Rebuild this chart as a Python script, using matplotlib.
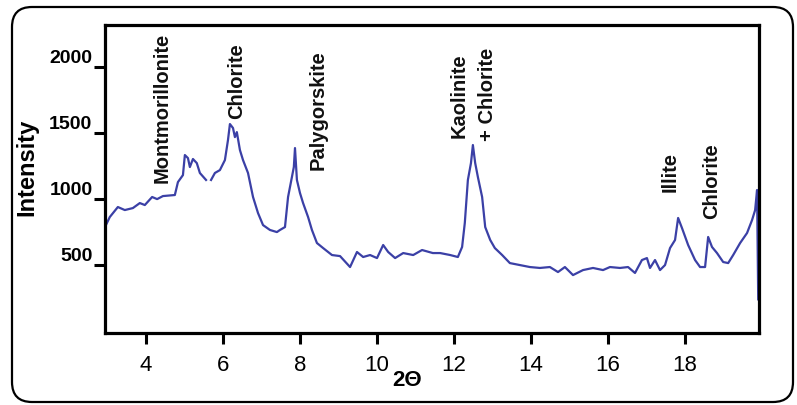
import numpy as np
import matplotlib
matplotlib.use('Agg')
import matplotlib.pyplot as plt
from matplotlib.patches import FancyBboxPatch
from matplotlib.transforms import IdentityTransform

# 2-theta (deg) and intensity
two_theta = [2.96, 3.06, 3.27, 3.45, 3.66, 3.84, 3.97, 4.16, 4.29, 4.44, 4.75, 4.83,
             4.96, 5.01, 5.09, 5.14, 5.22, 5.32, 5.40, 5.56, 5.62, 5.69, 5.79, 5.92,
             6.05, 6.13, 6.18, 6.26, 6.31, 6.36, 6.44, 6.52, 6.65, 6.78, 6.91, 7.04,
             7.22, 7.40, 7.48, 7.61, 7.69, 7.79, 7.84, 7.87, 7.92, 8.00, 8.08, 8.21,
             8.31, 8.44, 8.60, 8.83, 9.04, 9.30, 9.48, 9.64, 9.82, 10.00, 10.16, 10.29,
             10.47, 10.68, 10.94, 11.17, 11.45, 11.64, 11.90, 12.10, 12.21, 12.28, 12.36,
             12.44, 12.49, 12.55, 12.62, 12.73, 12.81, 12.94, 13.06, 13.25, 13.45, 13.71,
             13.97, 14.23, 14.49, 14.70, 14.88, 15.09, 15.35, 15.61, 15.87, 16.05, 16.31,
             16.52, 16.70, 16.88, 17.01, 17.09, 17.22, 17.35, 17.48, 17.61, 17.74, 17.82,
             17.92, 18.08, 18.26, 18.39, 18.52, 18.60, 18.70, 18.83, 18.99, 19.12, 19.25,
             19.43, 19.61, 19.74, 19.82, 19.87, 19.90]
intensity = [803, 864, 940, 917, 932, 970, 955, 1016, 1000, 1023, 1031, 1129,
             1182, 1334, 1311, 1243, 1304, 1273, 1198, 1145, np.nan, 1145, 1198, 1220,
             1296, 1448, 1569, 1539, 1470, 1508, 1372, 1296, 1198, 1016, 894, 803,
             766, 750, 766, 788, 1016, 1167, 1243, 1387, 1145, 1046, 970, 864,
             766, 667, 629, 576, 568, 485, 599, 561, 576, 553, 652, 599,
             553, 591, 576, 614, 591, 591, 576, 561, 637, 819, 1145,
             1273, 1410, 1273, 1167, 1016, 788, 690, 629, 576, 515, 500,
             485, 478, 485, 447, 485, 424, 462, 478, 462, 485, 478,
             485, 440, 538, 553, 478, 538, 462, 500, 629, 690, 857,
             781, 652, 538, 485, 485, 713, 637, 591, 523, 515, 576,
             667, 743, 841, 917, 1069, 240]

y_ticks = [500, 1000, 1500, 2000]
x_ticks = [4, 6, 8, 10, 12, 14, 16, 18]

# phase labels: text, x position, top of label
phase_names = ['Montmorillonite', 'Chlorite', 'Palygorskite', 'Kaolinite', '+ Chlorite', 'Illite', 'Chlorite']
phase_x = [4.42, 6.36, 8.47, 12.13, 12.88, 17.61, 18.68]
phase_top = [2259, 2183, 2130, 2107, 2145, 1357, 1425]

plt.rcParams['font.family'] = ['Liberation Sans', 'DejaVu Sans']

fig = plt.figure(figsize=(7.97, 4.05), dpi=100)
ax = fig.add_axes([0.1317, 0.1778, 0.8206, 0.7605])

ax.plot(two_theta, intensity, color='#3b40a6', linewidth=1.6)

ax.set_xlim(2.935, 19.92)
ax.set_ylim(-15, 2320)
ax.set_xticks(x_ticks)
ax.set_yticks(y_ticks)

for s in ax.spines.values():
    s.set_linewidth(2.3)
ax.tick_params(axis='both', direction='out', length=8, width=2.2)
ax.tick_params(axis='x', labelsize=16, pad=8)
ax.tick_params(axis='y', labelsize=14, pad=1)
for lab in ax.get_yticklabels():
    lab.set_verticalalignment('bottom')
    lab.set_fontweight('bold')

ax.set_xlabel('2Θ', fontsize=16, fontweight='bold')
ax.xaxis.set_label_coords(0.462, -0.12)
ax.set_ylabel('Intensity', fontsize=17, fontweight='bold')
ax.yaxis.set_label_coords(-0.102, 0.539)

for name, xp, yt in zip(phase_names, phase_x, phase_top):
    ax.text(xp, yt, name, rotation=90, ha='center', va='top',
            fontsize=14.5, fontweight='bold', color='#111111')

# rounded outer frame around the whole picture
frame = FancyBboxPatch((12, 3), 781, 395, boxstyle='round,pad=0,rounding_size=20',
                       transform=IdentityTransform(), fill=False,
                       edgecolor='black', linewidth=1.6)
fig.patches.append(frame)

fig.savefig('out.png', dpi=100)
